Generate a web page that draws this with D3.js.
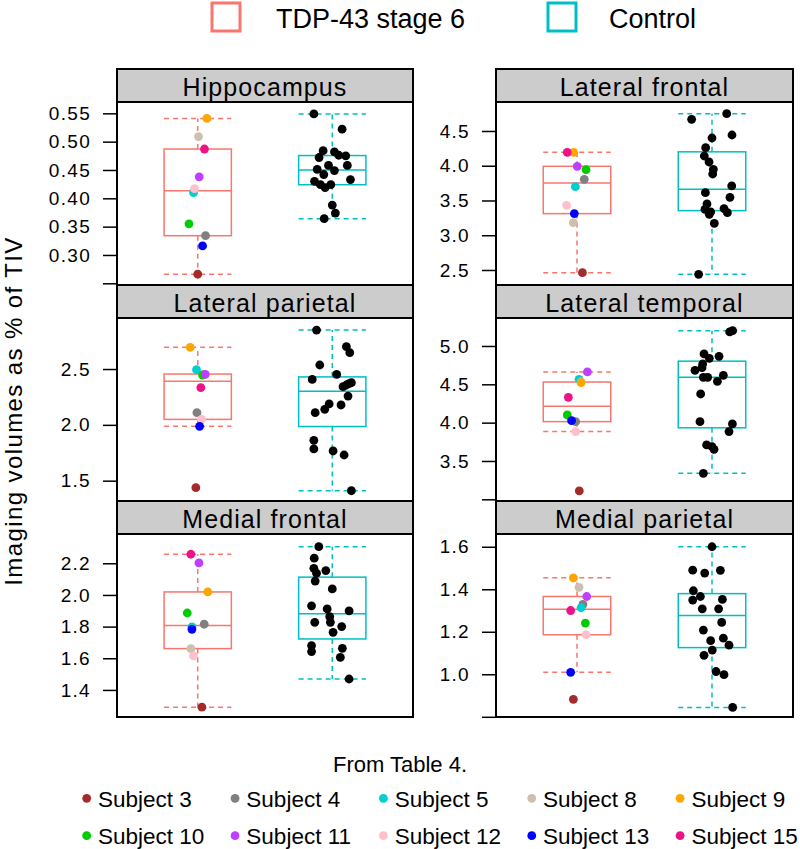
<!DOCTYPE html>
<html>
<head>
<meta charset="utf-8">
<script src="https://cdn.jsdelivr.net/npm/d3@7"></script>
<style>
  html, body { margin: 0; padding: 0; background: #fff; }
  svg { display: block; font-family: "Liberation Sans", Arial, Helvetica, sans-serif; }
</style>
</head>
<body>
<svg id="chart" width="800" height="849"></svg>
<script>
// ---------------- DATA ----------------
const groups = ["TDP-43 stage 6", "Control"];
const groupColors = ["#F8766D", "#00BFC4"];

const subjects = ["Subject 3","Subject 4","Subject 5","Subject 8","Subject 9",
                  "Subject 10","Subject 11","Subject 12","Subject 13","Subject 15"];
const subjectColors = ["#A52A2A","#808080","#00CED1","#CDC0B0","#FFA500",
                       "#00CD00","#BF3EFF","#FFC0CB","#0000FF","#EE1289"];

const regions = ["Hippocampus","Lateral frontal","Lateral parietal",
                 "Lateral temporal","Medial frontal","Medial parietal"];

// TDP-43 stage 6 values, in the order of `subjects`
const tdpHippocampus     = [0.266,0.334,0.410,0.509,0.541,0.355,0.438,0.417,0.316,0.487];
const tdpLateralFrontal  = [2.462,3.805,3.699,3.181,4.193,3.944,3.992,3.430,3.311,4.193];
const tdpLateralParietal = [1.437,2.109,2.494,2.455,2.694,2.446,2.452,2.049,1.987,2.333];
const tdpLateralTemporal = [3.109,4.013,4.565,4.530,4.522,4.100,4.661,3.883,4.026,4.330];
const tdpMedialFrontal   = [1.291,1.815,1.798,1.661,2.019,1.886,2.202,1.615,1.783,2.257];
const tdpMedialParietal  = [0.882,1.329,1.313,1.409,1.454,1.241,1.366,1.186,1.009,1.300];

// horizontal jitter of the TDP points (group units)
const tdpJitHippocampus     = [0,0.058,-0.031,0.006,0.068,-0.065,0.011,-0.024,0.036,0.05];
const tdpJitLateralFrontal  = [0.04,0.054,-0.012,-0.027,-0.025,0.067,0.002,-0.077,-0.02,-0.072];
const tdpJitLateralParietal = [-0.014,-0.006,-0.009,0.045,-0.056,0.036,0.056,0.028,0.014,0.023];
const tdpJitLateralTemporal = [0.017,-0.01,0.015,0.03,0.03,-0.072,0.077,-0.01,-0.04,-0.064];
const tdpJitMedialFrontal   = [0.031,0.048,-0.043,-0.051,0.075,-0.078,0.009,-0.031,-0.043,-0.051];
const tdpJitMedialParietal  = [-0.027,0.044,0.03,0.015,-0.027,0.062,0.072,0.067,-0.047,-0.047];

// Control values
const ctlHippocampus     = [0.549,0.522,0.484,0.472,0.482,0.476,0.475,0.458,0.458,0.451,0.449,0.442,0.433,0.430,0.424,0.419,0.424,0.388,0.374,0.364];
const ctlLateralFrontal  = [4.749,4.668,4.442,4.399,4.260,4.140,4.054,3.948,3.881,3.709,3.613,3.546,3.450,3.373,3.383,3.335,3.325,3.301,3.171,2.438];
const ctlLateralParietal = [2.849,2.700,2.646,2.536,2.407,2.452,2.378,2.357,2.342,2.370,2.258,2.187,2.139,2.178,2.109,1.861,1.784,1.766,1.730,1.410];
const ctlLateralTemporal = [5.200,5.183,4.896,4.865,4.839,4.765,4.683,4.717,4.617,4.591,4.591,4.539,4.374,4.013,3.983,3.883,3.709,3.687,3.652,3.339];
const ctlMedialFrontal   = [2.305,2.232,2.168,2.154,2.137,2.088,2.038,1.931,1.912,1.899,1.863,1.827,1.827,1.800,1.764,1.680,1.642,1.663,1.606,1.469];
const ctlMedialParietal  = [1.600,1.490,1.476,1.489,1.393,1.366,1.349,1.352,1.308,1.308,1.244,1.208,1.158,1.170,1.137,1.114,1.089,1.013,0.998,0.844];

// horizontal jitter of the control points (group units)
const ctlJitHippocampus     = [-0.137,0.073,-0.068,-0.098,0.016,0.048,0.1,-0.028,0.112,-0.112,0.016,-0.063,0.135,-0.132,-0.088,-0.053,-0.011,0,0.023,-0.06];
const ctlJitLateralFrontal  = [0.109,-0.151,0.148,0,-0.047,-0.057,-0.022,0.01,0.005,0.146,-0.049,0.133,-0.037,-0.052,0.089,-0.01,0.114,-0.02,0.017,-0.099];
const ctlJitLateralParietal = [-0.117,0.105,0.13,-0.093,-0.149,0.033,0.142,0.105,0.08,0.125,0.117,-0.023,-0.056,0.065,-0.127,-0.137,-0.137,0.006,0.088,0.142];
const ctlJitLateralTemporal = [0.153,0.131,-0.059,0.052,-0.02,-0.069,-0.126,-0.074,0.084,-0.064,-0.032,0.04,-0.084,-0.089,0.151,0.126,-0.04,0,0.015,-0.064];
const ctlJitMedialFrontal   = [-0.1,-0.134,-0.137,-0.048,-0.117,-0.127,0,-0.154,-0.038,0.125,-0.019,-0.014,-0.13,0.07,0.006,-0.154,-0.154,0.075,0.06,0.125];
const ctlJitMedialParietal  = [0,-0.143,-0.054,0.062,-0.138,-0.086,-0.143,0.077,-0.072,0.049,0.072,-0.064,-0.01,0.084,0.126,0.002,-0.059,0.03,0.089,0.153];

// y axis ranges and ticks per panel
const yDomains = [[0.247,0.570],[2.284,4.917],[1.318,2.957],[2.978,5.365],[1.229,2.385],[0.799,1.660]];
const yTicks = [
  [0.25,0.30,0.35,0.40,0.45,0.50,0.55],
  [2.5,3.0,3.5,4.0,4.5],
  [1.5,2.0,2.5],
  [3.0,3.5,4.0,4.5,5.0],
  [1.4,1.6,1.8,2.0,2.2],
  [0.8,1.0,1.2,1.4,1.6]
];
const yTickLabels = [
  ["","0.30","0.35","0.40","0.45","0.50","0.55"],
  ["2.5","3.0","3.5","4.0","4.5"],
  ["1.5","2.0","2.5"],
  ["","3.5","4.0","4.5","5.0"],
  ["1.4","1.6","1.8","2.0","2.2"],
  ["","1.0","1.2","1.4","1.6"]
];
const yTitle = "Imaging volumes as % of TIV";
const caption = "From Table 4.";

const tdpData = [tdpHippocampus,tdpLateralFrontal,tdpLateralParietal,tdpLateralTemporal,tdpMedialFrontal,tdpMedialParietal];
const tdpJit  = [tdpJitHippocampus,tdpJitLateralFrontal,tdpJitLateralParietal,tdpJitLateralTemporal,tdpJitMedialFrontal,tdpJitMedialParietal];
const ctlData = [ctlHippocampus,ctlLateralFrontal,ctlLateralParietal,ctlLateralTemporal,ctlMedialFrontal,ctlMedialParietal];
const ctlJit  = [ctlJitHippocampus,ctlJitLateralFrontal,ctlJitLateralParietal,ctlJitLateralTemporal,ctlJitMedialFrontal,ctlJitMedialParietal];

// ---------------- HELPERS ----------------
function fivenum(arr) {
  const x = arr.slice().sort((a,b)=>a-b);
  const n = x.length;
  const n4 = Math.floor((n+3)/2)/2;
  const d = [1, n4, (n+1)/2, n+1-n4, n];
  return d.map(v => 0.5*(x[Math.floor(v)-1] + x[Math.ceil(v)-1]));
}
function boxStats(arr) {
  const f = fivenum(arr);
  const iqr = f[3]-f[1];
  const lo = f[1]-1.5*iqr, hi = f[3]+1.5*iqr;
  const inside = arr.filter(v => v>=lo && v<=hi);
  return {q1:f[1], med:f[2], q3:f[3], wlo:d3.min(inside), whi:d3.max(inside)};
}

// ---------------- LAYOUT ----------------
const svg = d3.select("#chart");
const colX = [117, 496], colW = [296, 297];
const rowTop = [69, 285, 501], stripH = 33, plotH = 183;
const ptR = 4.4;

regions.forEach((name, i) => {
  const col = i % 2, row = Math.floor(i/2);
  const x0 = colX[col], w = colW[col];
  const top = rowTop[row], pTop = top + stripH, pBot = pTop + plotH;
  const g = svg.append("g");

  const xs = d3.scaleLinear().domain([0.4, 2.6]).range([x0, x0 + w]);
  const ys = d3.scaleLinear().domain(yDomains[i]).range([pBot, pTop]);

  // plot background
  g.append("rect").attr("x", x0).attr("y", pTop).attr("width", w).attr("height", plotH)
    .attr("fill", "#fff");

  // boxes
  [tdpData[i], ctlData[i]].forEach((vals, gi) => {
    const s = boxStats(vals);
    const c = gi + 1, col = groupColors[gi];
    const bx0 = xs(c - 0.25), bx1 = xs(c + 0.25), cx = xs(c);
    const bg = g.append("g").attr("stroke", col).attr("fill", "none").attr("stroke-width", 1.5);
    // whiskers (dashed)
    bg.append("line").attr("x1", cx).attr("x2", cx).attr("y1", ys(s.q3)).attr("y2", ys(s.whi)).attr("stroke-dasharray", "5,4");
    bg.append("line").attr("x1", cx).attr("x2", cx).attr("y1", ys(s.q1)).attr("y2", ys(s.wlo)).attr("stroke-dasharray", "5,4");
    bg.append("line").attr("x1", bx0).attr("x2", bx1).attr("y1", ys(s.whi)).attr("y2", ys(s.whi)).attr("stroke-dasharray", "5,4");
    bg.append("line").attr("x1", bx0).attr("x2", bx1).attr("y1", ys(s.wlo)).attr("y2", ys(s.wlo)).attr("stroke-dasharray", "5,4");
    // box
    bg.append("rect").attr("x", bx0).attr("y", ys(s.q3)).attr("width", bx1 - bx0).attr("height", ys(s.q1) - ys(s.q3));
    bg.append("line").attr("x1", bx0).attr("x2", bx1).attr("y1", ys(s.med)).attr("y2", ys(s.med));
  });

  // control points
  g.append("g").selectAll("circle").data(ctlData[i]).join("circle")
    .attr("cx", (d, k) => xs(2 + ctlJit[i][k]))
    .attr("cy", d => ys(d))
    .attr("r", ptR).attr("fill", "#000");

  // TDP points coloured by subject
  g.append("g").selectAll("circle").data(tdpData[i]).join("circle")
    .attr("cx", (d, k) => xs(1 + tdpJit[i][k]))
    .attr("cy", d => ys(d))
    .attr("r", ptR).attr("fill", (d, k) => subjectColors[k]);

  // panel border
  g.append("rect").attr("x", x0).attr("y", pTop).attr("width", w).attr("height", plotH)
    .attr("fill", "none").attr("stroke", "#000").attr("stroke-width", 2);

  // strip
  g.append("rect").attr("x", x0).attr("y", top).attr("width", w).attr("height", stripH)
    .attr("fill", "#CCCCCC").attr("stroke", "#000").attr("stroke-width", 2);
  g.append("text").attr("x", x0 + w/2).attr("y", top + 27)
    .attr("text-anchor", "middle").attr("font-size", 25).attr("letter-spacing", "1.1px")
    .attr("fill", "#000").text(name);

  // y axis
  const labels = yTickLabels[i];
  const ax = d3.axisLeft(ys).tickValues(yTicks[i])
    .tickFormat((d, k) => labels[k]).tickSize(14).tickPadding(12).tickSizeOuter(0);
  const axg = g.append("g").attr("transform", `translate(${x0},0)`).call(ax);
  axg.select(".domain").remove();
  axg.selectAll(".tick line").attr("stroke", "#000").attr("stroke-width", 1.5);
  axg.selectAll(".tick text").attr("font-size", 19).attr("letter-spacing", "1.3px")
    .attr("fill", "#000").attr("font-family", "Liberation Sans, Arial, sans-serif");
});

// y title
svg.append("text")
  .attr("transform", "translate(22,411) rotate(-90)")
  .attr("text-anchor", "middle").attr("font-size", 24).attr("letter-spacing", "1.4px")
  .attr("fill", "#000").text(yTitle);

// top legend
const topLeg = [{x: 212, tx: 276}, {x: 548, tx: 609}];
groups.forEach((gname, gi) => {
  svg.append("rect").attr("x", topLeg[gi].x).attr("y", 3).attr("width", 28).attr("height", 28)
    .attr("fill", "none").attr("stroke", groupColors[gi]).attr("stroke-width", 3);
  svg.append("text").attr("x", topLeg[gi].tx).attr("y", 28).attr("font-size", 27)
    .attr("fill", "#000").text(gname);
});

// caption
svg.append("text").attr("x", 400).attr("y", 772).attr("text-anchor", "middle")
  .attr("font-size", 22).attr("fill", "#000").text(caption);

// bottom legend
const legX = d3.scalePoint().domain(d3.range(5)).range([86.7, 680.1]);
const legY = [798.3, 835.7];
subjects.forEach((s, k) => {
  const c = k % 5, r = Math.floor(k / 5);
  svg.append("circle").attr("cx", legX(c)).attr("cy", legY[r]).attr("r", 4.4).attr("fill", subjectColors[k]);
  svg.append("text").attr("x", legX(c) + 11.3).attr("y", legY[r] + 8.4)
    .attr("font-size", 22.5).attr("fill", "#000").text(s);
});
</script>
</body>
</html>
